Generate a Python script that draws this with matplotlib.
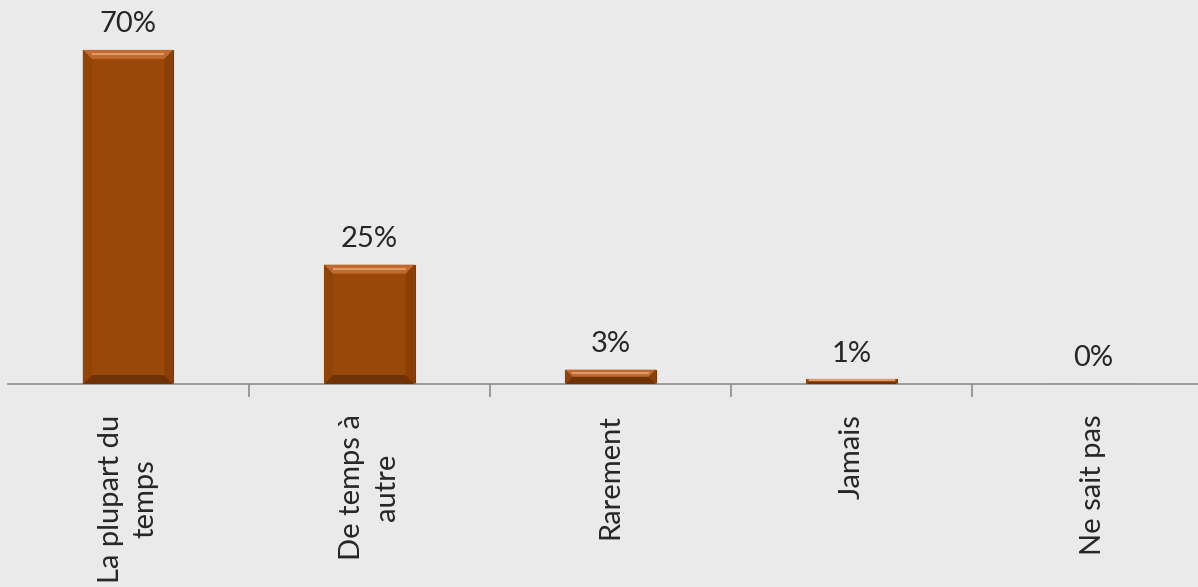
import matplotlib
matplotlib.use("Agg")
import matplotlib.pyplot as plt
from matplotlib.patches import Polygon

plt.rcParams['font.family'] = ['Lato', 'DejaVu Sans']

# Réponses et pourcentages
categories = ["La plupart du\ntemps", "De temps à\nautre", "Rarement", "Jamais", "Ne sait pas"]
valeurs = [70, 25, 3, 1, 0]
etiquettes = ["70%", "25%", "3%", "1%", "0%"]

fond = "#eaeaea"
brun = "#9a4808"

fig = plt.figure(figsize=(11.98, 5.87), dpi=100, facecolor=fond)
ax = fig.add_axes([7.5 / 1198, 203 / 587, 1206 / 1198, 357.9 / 587])
ax.set_facecolor(fond)

x = list(range(len(categories)))
barres = ax.bar(x, valeurs, width=0.375, color=brun, edgecolor="#7a3806",
                linewidth=0.8, zorder=2)
ax.set_xlim(-0.5, len(categories) - 0.5)
ax.set_ylim(0, 75)

# effet biseauté sur chaque barre
px_x = 5 / 1206
px_y = 75 / 357.9
for b in barres:
    h = b.get_height()
    if h <= 0:
        continue
    x0, w = b.get_x(), b.get_width()
    x1 = x0 + w
    d = min(9, h / px_y / 2)
    dx, dy = d * px_x, d * px_y
    haut = Polygon([(x0, h), (x1, h), (x1 - dx, h - dy), (x0 + dx, h - dy)],
                   closed=True, color="#c06a30", zorder=3, lw=0)
    bas = Polygon([(x0, 0), (x1, 0), (x1 - dx, dy), (x0 + dx, dy)],
                  closed=True, color="#6f3204", zorder=3, lw=0)
    gauche = Polygon([(x0, 0), (x0 + dx, dy), (x0 + dx, h - dy), (x0, h)],
                     closed=True, color="#924408", zorder=3, lw=0)
    droite = Polygon([(x1, 0), (x1 - dx, dy), (x1 - dx, h - dy), (x1, h)],
                     closed=True, color="#8a3f06", zorder=3, lw=0)
    for p in (haut, bas, gauche, droite):
        ax.add_patch(p)
    ax.plot([x0 + dx, x1 - dx], [h - dy * 0.5, h - dy * 0.5], color="#e09a68",
            lw=1.5, zorder=4, solid_capstyle="butt")

for xi, v, t in zip(x, valeurs, etiquettes):
    ax.annotate(t, (xi, v), xytext=(0, 9), textcoords="offset points",
                ha="center", va="bottom", fontsize=21, color="#262626")

for s in ("top", "right", "left"):
    ax.spines[s].set_visible(False)
ax.spines["bottom"].set_color("#8c8c8c")
ax.spines["bottom"].set_linewidth(1.2)
ax.set_yticks([])

ax.set_xticks(x)
ax.set_xticklabels(categories, rotation=90, fontsize=21, color="#262626",
                   ha="center", va="top", multialignment="center",
                   linespacing=1.4)
ax.tick_params(axis="x", which="major", length=0, pad=22)
ax.set_xticks([i + 0.5 for i in x[:-1]], minor=True)
ax.tick_params(axis="x", which="minor", length=9, width=1.2, color="#8c8c8c")

fig.savefig("out.png", dpi=100, facecolor=fond)
